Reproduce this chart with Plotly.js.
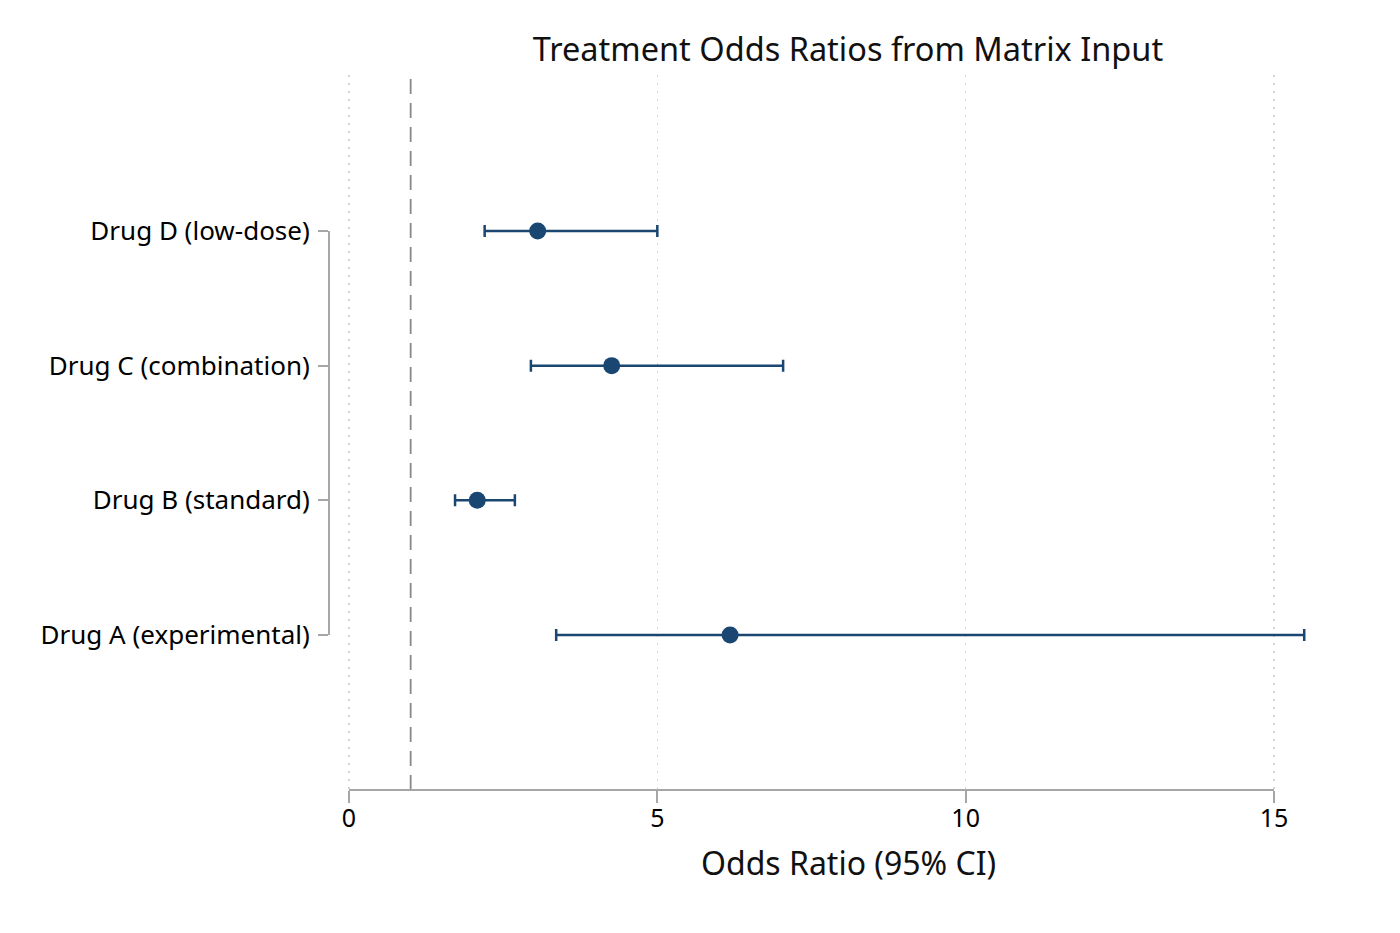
<!DOCTYPE html>
<html>
<head>
<meta charset="utf-8">
<script src="https://cdn.plot.ly/plotly-3.0.1.min.js"></script>
<style>html,body{margin:0;padding:0;background:#fff;}#chart{width:1400px;height:933px;}</style>
</head>
<body>
<div id="chart"></div>
<script>
const categories = ["Drug A (experimental)", "Drug B (standard)", "Drug C (combination)", "Drug D (low-dose)"];
const oddsRatio = [6.18, 2.08, 4.26, 3.06];
const ciLower = [3.36, 1.72, 2.95, 2.20];
const ciUpper = [15.49, 2.69, 7.04, 5.00];
const xTicks = [0, 5, 10, 15];
const refLine = 1;

const yPos = categories.map((c, i) => i);
const color = '#1a4672';
const axisGrey = '#a6a6a6';

const trace = {
  type: 'scatter',
  mode: 'markers',
  x: oddsRatio,
  y: yPos,
  marker: {color: color, size: 17},
  error_x: {
    type: 'data',
    symmetric: false,
    array: oddsRatio.map((v, i) => ciUpper[i] - v),
    arrayminus: oddsRatio.map((v, i) => v - ciLower[i]),
    color: color,
    thickness: 2.5,
    width: 6
  },
  hoverinfo: 'x+y',
  showlegend: false
};

const layout = {
  width: 1400,
  height: 933,
  paper_bgcolor: '#fff',
  plot_bgcolor: '#fff',
  margin: {l: 329, r: 89, t: 75, b: 143},
  font: {family: 'Noto Sans, DejaVu Sans, sans-serif', color: '#000', size: 26},
  title: {
    text: 'Treatment Odds Ratios from Matrix Input',
    font: {size: 32.5, color: '#111'},
    x: 0.5285, xref: 'paper', xanchor: 'center',
    y: 1 - 50 / 933, yref: 'container', yanchor: 'middle'
  },
  xaxis: {
    range: [-0.324, 15.6],
    tickvals: xTicks,
    ticktext: xTicks.map(String),
    showgrid: true,
    gridcolor: '#d4d4d4',
    griddash: '1.5px,6.5px',
    gridwidth: 1.2,
    zeroline: false,
    showline: false,
    ticks: 'outside',
    ticklen: 12,
    tickwidth: 2,
    tickcolor: axisGrey,
    ticklabelstandoff: -6,
    tickfont: {size: 25}
  },
  yaxis: {
    range: [-1.151, 4.158],
    tickvals: yPos,
    ticktext: categories,
    showgrid: false,
    zeroline: false,
    showline: false,
    ticks: 'outside',
    ticklen: 10,
    tickwidth: 2,
    tickcolor: axisGrey,
    ticklabelstandoff: 3,
    tickfont: {size: 26}
  },
  annotations: [
    {text: 'Odds Ratio (95% CI)', xref: 'paper', yref: 'paper',
     x: (848 - 329) / 982, y: -(862 - 790) / 715, xanchor: 'center', yanchor: 'middle',
     showarrow: false, font: {size: 32, color: '#111'}}
  ],
  shapes: [
    {type: 'line', xref: 'x', yref: 'paper', x0: refLine, x1: refLine, y0: 0, y1: 1,
     line: {color: '#888', width: 1.8, dash: '15px,9px'}},
    {type: 'line', xref: 'x', yref: 'paper', x0: xTicks[0], x1: xTicks[xTicks.length - 1], y0: 0, y1: 0,
     line: {color: axisGrey, width: 2}},
    {type: 'line', xref: 'paper', yref: 'y', x0: 0, x1: 0, y0: yPos[0], y1: yPos[yPos.length - 1],
     line: {color: axisGrey, width: 2}}
  ]
};

Plotly.newPlot('chart', [trace], layout, {displayModeBar: false, staticPlot: true});
</script>
</body>
</html>
